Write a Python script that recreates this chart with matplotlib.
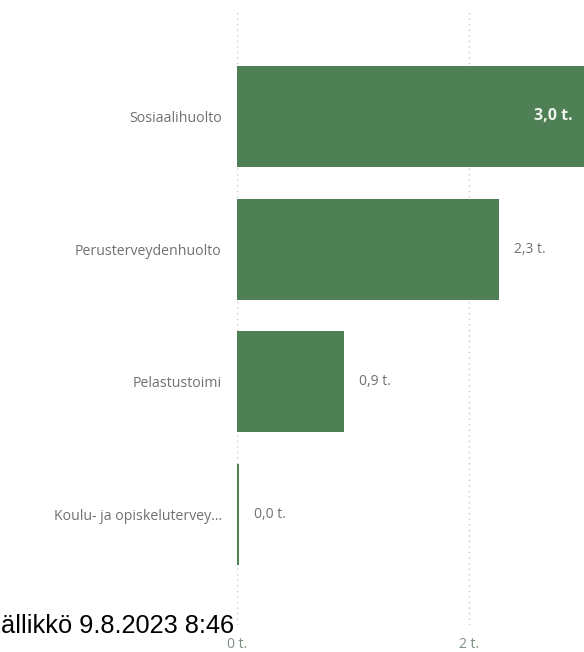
import matplotlib
matplotlib.use("Agg")
import matplotlib.pyplot as plt

categories = ["Sosiaalihuolto", "Perusterveydenhuolto", "Pelastustoimi",
              "Koulu- ja opiskelutervey..."]
values = [3.0, 2.26, 0.92, 0.02]
ticks = [0, 2]
tick_labels = ["0 t.", "2 t."]
footer = "ällikkö 9.8.2023 8:46"

bar_color = "#4f7f54"
text_color = "#6e726e"

plt.rcParams["font.family"] = ["Open Sans", "DejaVu Sans"]

fig = plt.figure(figsize=(5.84, 6.52), dpi=100)
ax = fig.add_axes([237 / 584, 1 - 625 / 652, 1 - 237 / 584, 615 / 652])

ypos = list(range(len(categories)))
ax.barh(ypos, values, height=0.76, color=bar_color, zorder=2)

for y, v in zip(ypos, values):
    label = f"{v:.1f}".replace(".", ",") + " t."
    if v > 2.8:
        # label sits inside the bar when it runs off the right edge
        ax.text(2.89, y, label, ha="right", va="center", color="#eef4ee",
                fontsize=11.5, fontweight="bold", zorder=3)
    else:
        ax.text(v + 0.13, y, label, ha="left", va="center", color=text_color,
                fontsize=10, zorder=3)

ax.set_xlim(0, 2.99)
ax.set_ylim(3.83, -0.8)
ax.set_yticks(ypos)
ax.set_yticklabels(categories, fontsize=10.2, color=text_color)
ax.set_xticks(ticks)
ax.set_xticklabels(tick_labels, fontsize=10, color="#7d907f")
ax.tick_params(axis="y", length=0, pad=11)
ax.tick_params(axis="x", length=0, pad=9)
ax.grid(axis="x", linestyle=(0, (1, 3)), color="#c8c8c8", linewidth=1, zorder=0)
for s in ax.spines.values():
    s.set_visible(False)

fig.text(1 / 584, 1 - 633 / 652, footer, ha="left", va="baseline",
         fontsize=18.3, color="black", family="Liberation Sans")

fig.savefig("out.png", dpi=100)
